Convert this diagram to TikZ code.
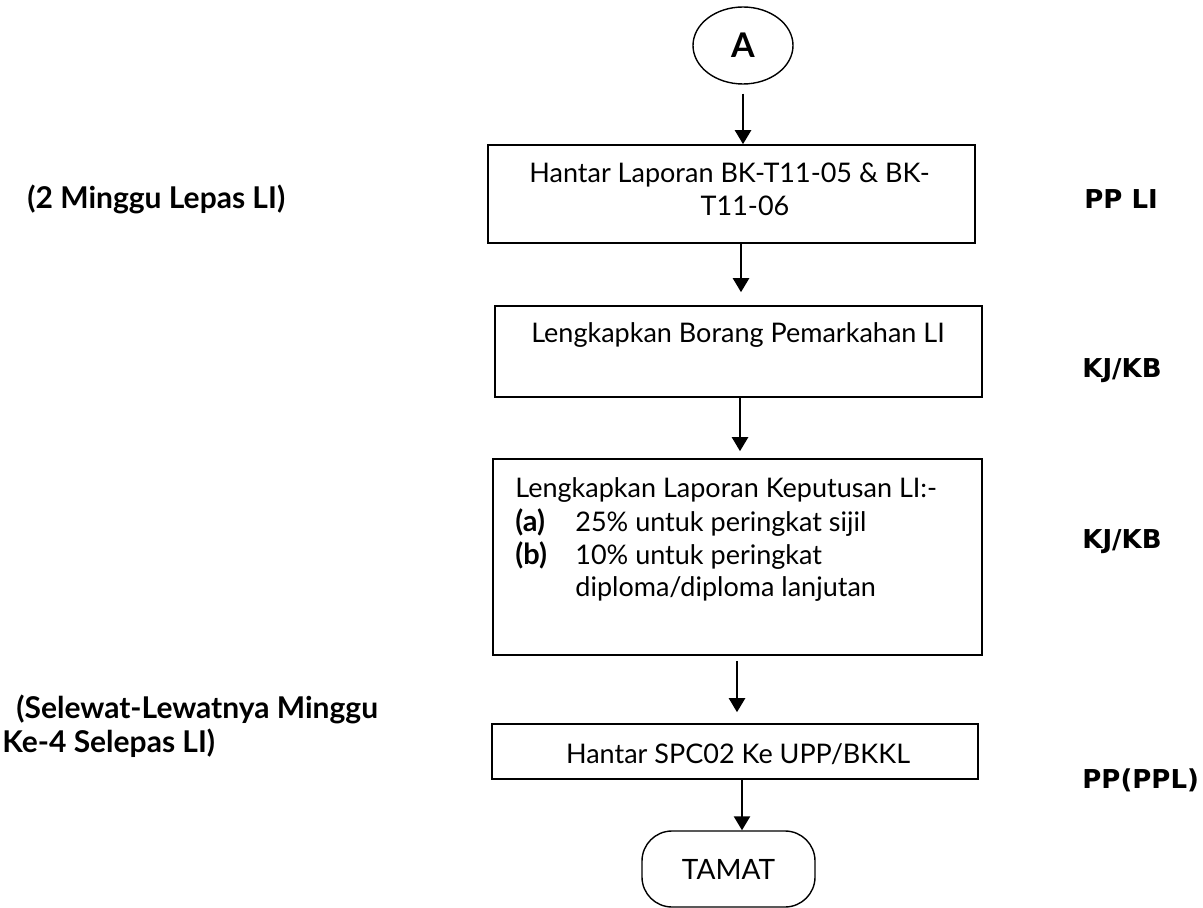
\documentclass[tikz,border=0pt]{standalone}
\usepackage{fontspec}
\setmainfont{Lato}
\newfontfamily\verdfont{DejaVu Sans}
\usetikzlibrary{shapes.geometric,arrows.meta}

\begin{document}
\begin{tikzpicture}[x=0.5pt,y=-0.5pt,
	txt/.style={inner sep=0pt,font=\fontsize{13.5pt}{16.5pt}\selectfont},
	box/.style={draw,line width=0.8pt,inner sep=0pt},
	side/.style={inner sep=0pt,anchor=base west,font=\fontsize{15pt}{17pt}\selectfont\bfseries},
	who/.style={inner sep=0pt,anchor=base west,font=\fontsize{13pt}{15pt}\selectfont\verdfont\bfseries},
	arr/.style={line width=1.2pt,-{Triangle[width=8pt,length=7pt]}}]
	\useasboundingbox (0,0) rectangle (1203,908);

	\node[draw,ellipse,line width=0.7pt,minimum width=50pt,minimum height=38.5pt,inner sep=0pt,
		font=\fontsize{17pt}{19pt}\selectfont\bfseries] (A) at (743,45.5) {A};

	\node[box,minimum width=243.5pt,minimum height=49pt] (b1) at (731.5,194) {};
	\node[txt,anchor=base] (t1a) at (729.5,183) {Hantar Laporan BK-T11-05 \& BK-};
	\node[txt,anchor=base] (t1b) at (745,216) {T11-06};

	\node[box,minimum width=243.5pt,minimum height=45.5pt] (b2) at (738.5,351.5) {};
	\node[txt,anchor=base] (t2) at (738,343) {Lengkapkan Borang Pemarkahan LI};

	\node[box,minimum width=244.5pt,minimum height=98pt] (b3) at (737.5,557) {};
	\node[txt,anchor=base west] (t3a) at (515,497) {Lengkapkan Laporan Keputusan LI:-};
	\node[txt,anchor=base west] (t3b) at (515,531) {\makebox[30pt][l]{\fontsize{14.5pt}{16.5pt}\selectfont\bfseries (a)}25\% untuk peringkat sijil};
	\node[txt,anchor=base west] (t3c) at (515,564) {\makebox[30pt][l]{\fontsize{14.5pt}{16.5pt}\selectfont\bfseries (b)}10\% untuk peringkat};
	\node[txt,anchor=base west] (t3d) at (575,596) {diploma/diploma lanjutan};

	\node[box,minimum width=243pt,minimum height=27.5pt] (b4) at (735,751.5) {};
	\node[txt,anchor=base] (t4) at (738,763) {Hantar SPC02 Ke UPP/BKKL};

	\node[draw,line width=0.7pt,rounded corners=15pt,minimum width=86.5pt,minimum height=38pt,inner sep=0pt,
		font=\fontsize{14pt}{16pt}\selectfont] (end) at (728.5,869) {TAMAT};

	\draw[arr,shorten <=4.5pt] (A.south) -- ([xshift=5.75pt]b1.north);
	\draw[arr,shorten >=6.5pt] ([xshift=4.75pt]b1.south) -- ([xshift=1.25pt]b2.north);
	\draw[arr,shorten >=3.5pt] ([xshift=0.75pt]b2.south) -- ([xshift=1.25pt]b3.north);
	\draw[arr,shorten <=2.5pt,shorten >=5.5pt] ([xshift=-0.25pt]b3.south) -- ([xshift=1pt]b4.north);
	\draw[arr] ([xshift=3.5pt]b4.south) -- ([xshift=6.75pt]end.north);

	\node[side] (l1) at (27,209) {(2 Minggu Lepas LI)};
	\node[side] (l2) at (16,718) {(Selewat-Lewatnya Minggu};
	\node[side] (l3) at (2,752) {Ke-4 Selepas LI)};

	\node[who] (r1) at (1084,209) {PP LI};
	\node[who] (r2) at (1082,378) {KJ/KB};
	\node[who] (r3) at (1082,548) {KJ/KB};
	\node[who] (r4) at (1082,788) {PP(PPL)};
\end{tikzpicture}
\end{document}
